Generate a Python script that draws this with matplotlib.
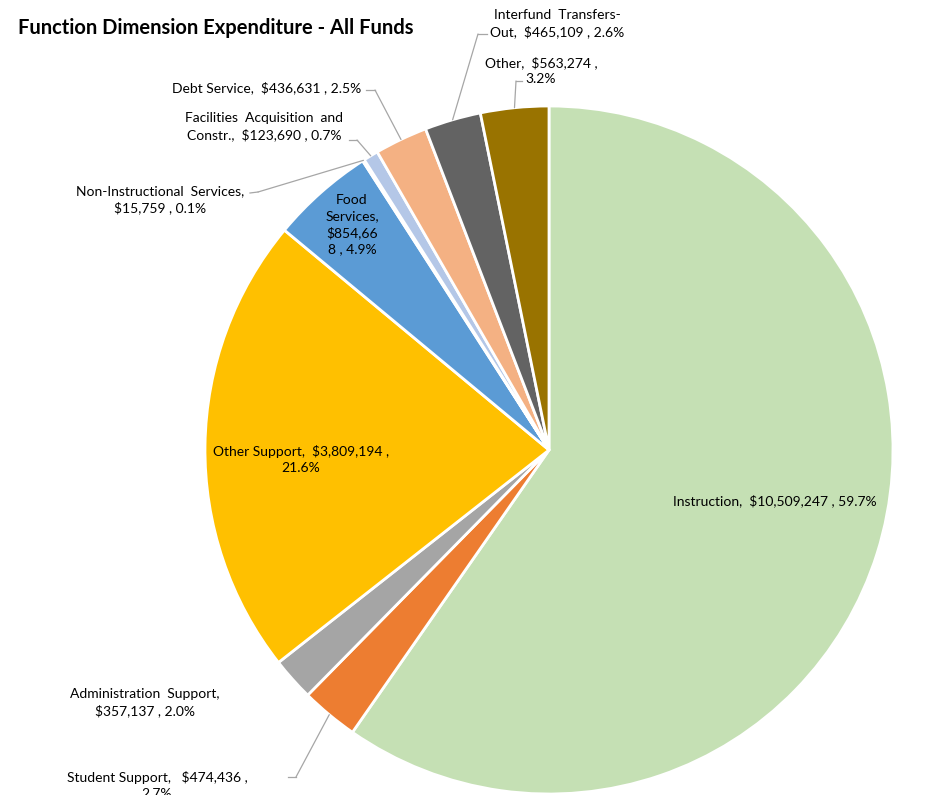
import numpy as np
import matplotlib.pyplot as plt

plt.rcParams['font.family'] = ['Lato', 'DejaVu Sans']

categories = ["Instruction", "Student Support", "Administration Support", "Other Support",
              "Food Services", "Non-Instructional Services", "Facilities Acquisition and Constr.",
              "Debt Service", "Interfund Transfers-Out", "Other"]
amounts = [10509247, 474436, 357137, 3809194, 854668, 15759, 123690, 436631, 465109, 563274]
percents = [59.7, 2.7, 2.0, 21.6, 4.9, 0.1, 0.7, 2.5, 2.6, 3.2]
colors = ["#C5E0B4", "#ED7D31", "#A5A5A5", "#FFC000", "#5B9BD5", "#264478",
          "#B4C7E7", "#F4B183", "#636363", "#997300"]

W, H = 949, 795
fig = plt.figure(figsize=(W / 100, H / 100), dpi=100)

# pie centre / radius in pixels (from top-left)
cx, cy, R = 549, 450, 344
ax = fig.add_axes([(cx - R) / W, (H - cy - R) / H, 2 * R / W, 2 * R / H])
ax.axis('off')

wedges, _ = ax.pie(amounts, colors=colors, startangle=90, counterclock=False,
                   radius=1, center=(0, 0), frame=False,
                   wedgeprops=dict(edgecolor='white', linewidth=2))
ax.set_xlim(-1, 1)
ax.set_ylim(-1, 1)


def fp(x, y):
    # pixel (top-left origin) -> figure fraction
    return x / W, 1 - y / H


def lbl(i, name, x, y, lines=None, ha='center'):
    if lines is None:
        lines = [f"{name},  ${amounts[i]:,} , {percents[i]:.1f}%"]
    fig.text(*fp(x, y), "\n".join(lines), ha=ha, va='center', fontsize=10,
             color='#000000', linespacing=1.4)


def leader(i, pts):
    w = wedges[i]
    mid = np.radians((w.theta1 + w.theta2) / 2)
    wx, wy = np.cos(mid), np.sin(mid)
    xs = [p[0] for p in pts]
    ys = [p[1] for p in pts]
    for k in range(len(pts) - 1):
        fig.add_artist(plt.Line2D([xs[k] / W, xs[k + 1] / W], [1 - ys[k] / H, 1 - ys[k + 1] / H],
                                  color='#A6A6A6', lw=0.9, transform=fig.transFigure))
    ax.annotate("", xy=(wx, wy), xycoords='data',
                xytext=fp(*pts[-1]), textcoords='figure fraction',
                arrowprops=dict(arrowstyle='-', color='#A6A6A6', lw=0.9,
                                shrinkA=0, shrinkB=0))


fig.text(*fp(18, 28), "Function Dimension Expenditure - All Funds", ha='left', va='center',
         fontsize=14.5, fontweight='bold')

lbl(0, "Instruction", 775, 501)
lbl(1, None, 157, 786, ["Student Support,   $474,436 ,", "2.7%"])
leader(1, [(288, 777), (296, 777)])
lbl(2, None, 145, 703, ["Administration  Support,", "$357,137 , 2.0%"])
lbl(3, None, 301, 460, ["Other Support,  $3,809,194 ,", "21.6%"])
lbl(4, None, 352, 225, ["Food", "Services,", "$854,66", "8 , 4.9%"])
lbl(5, None, 160, 200, ["Non-Instructional  Services,", "$15,759 , 0.1%"])
leader(5, [(250, 193), (258, 192)])
lbl(6, None, 264, 127, ["Facilities  Acquisition  and", "Constr.,  $123,690 , 0.7%"])
leader(6, [(349, 140), (357, 140)])
lbl(7, "Debt Service", 267, 88)
leader(7, [(366, 90), (375, 90)])
lbl(8, None, 557, 24, ["Interfund  Transfers-", "Out,  $465,109 , 2.6%"])
leader(8, [(487, 34), (478, 34)])
lbl(9, None, 541, 71, ["Other,  $563,274 ,", "3.2%"])
leader(9, [(522, 81), (516, 81)])

fig.savefig("out.png", dpi=100, facecolor='white')
